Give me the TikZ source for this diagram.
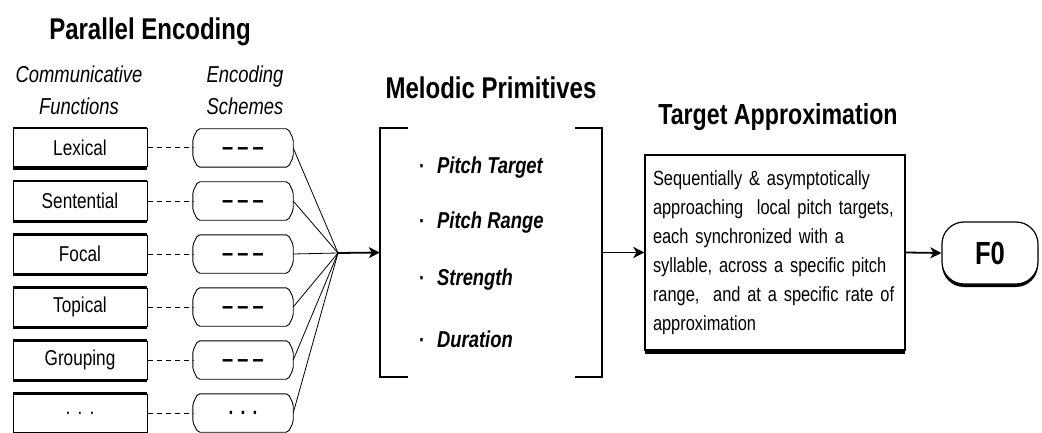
\documentclass[tikz,border=0pt]{standalone}
\usepackage{fontspec}
\setmainfont{Liberation Sans}[FakeStretch=0.8]
\usetikzlibrary{arrows.meta,shadows}
\begin{document}
\begin{tikzpicture}[x=1pt,y=-1pt,
  title/.style={anchor=base, inner sep=0pt, font=\fontsize{30}{34}\selectfont\bfseries},
  subtitle/.style={anchor=base, inner sep=0pt, align=center, font=\fontsize{23}{32}\selectfont\itshape},
  fbox/.style={draw, line width=1pt, fill=white, minimum width=134pt, minimum height=38pt, inner sep=0pt,
    font=\fontsize{21.5}{24}\selectfont,
    general shadow={fill=black, shadow yshift=1.8pt},
    general shadow={fill=black, shadow yshift=-3pt}},
  sbox/.style={minimum width=100pt, minimum height=38pt, inner sep=0pt},
  sline/.style={line width=0.9pt, rounded corners=2pt},
  stxt/.style={inner sep=0pt, font=\fontsize{25}{28}\selectfont\bfseries},
  dashconn/.style={line width=1pt, dash pattern=on 5pt off 4pt},
  fan/.style={line width=0.8pt},
  arr/.style={line width=1.8pt, -{Stealth[length=11pt, width=11pt, inset=3pt]}},
  brk/.style={line width=1.8pt},
  prim/.style={anchor=base west, inner sep=0pt, font=\fontsize{23}{26}\selectfont\bfseries\itshape},
  bul/.style={anchor=base, inner sep=0pt, font=\fontsize{22}{26}\selectfont\bfseries},
  tabox/.style={draw, line width=1.2pt, fill=white, minimum width=260pt, minimum height=195pt,
    inner sep=8pt, text width=244pt, align=left, font=\fontsize{20.5}{29}\selectfont,
    general shadow={fill=black, shadow yshift=1pt},
    general shadow={fill=black, shadow yshift=-4pt}},
  fzero/.style={draw, line width=1.2pt, fill=white, rounded corners=22pt, minimum width=96pt, minimum height=62pt,
    inner sep=0pt, font=\fontsize{32}{34}\selectfont\bfseries,
    general shadow={fill=black, shadow yshift=-3pt}}
]
\useasboundingbox (0,0) rectangle (1042,433);

% titles
\node[title] (tpe) at (150,40) {Parallel Encoding};
\node[title] (tmp) at (491,99) {Melodic Primitives};
\node[title, font=\fontsize{29}{34}\selectfont\bfseries] (tta) at (778,125) {Target Approximation};
\node[subtitle] (scf) at (79,115) {Communicative\\Functions};
\node[subtitle] (ses) at (245,115) {Encoding\\Schemes};

% function boxes and schemes
\foreach \i/\t/\y in {1/Lexical/148, 2/Sentential/201, 3/Focal/254, 4/Topical/307, 5/Grouping/360, 6/{.\,\,.\,\,.}/413}{
  \node[fbox] (f\i) at (80,\y) {\t};
}
\foreach \i/\y in {1/148, 2/201, 3/254, 4/307, 5/360, 6/413}{
  \node[sbox] (s\i) at (243,\y) {};
  \draw[sline] ([xshift=5pt]s\i.north west) -- ([xshift=-5pt]s\i.north east)
    -- ([yshift=-10pt]s\i.north east) -- ([yshift=10pt]s\i.south east)
    -- ([xshift=-5pt]s\i.south east) -- ([xshift=5pt]s\i.south west)
    -- ([yshift=10pt]s\i.south west) -- ([yshift=-10pt]s\i.north west) -- cycle;
}
\foreach \i in {1,...,5}{
  \node[stxt, yshift=-3.5pt] (d\i) at (s\i.center) {–\,–\,–};
}
\node[stxt, font=\fontsize{21.5}{24}\selectfont\bfseries] (d6) at (s6.center) {.\,\,.\,\,.};
\foreach \i in {1,...,6}{
  \draw[dashconn] (f\i.east) -- (s\i.west);
}

% fan-in
\coordinate (c) at (338,253);
\foreach \i in {1,...,6}{
  \draw[fan] (s\i.east) -- (c);
}

% melodic primitives bracket
\node[minimum width=222pt, minimum height=249pt, inner sep=0pt] (mp) at (491,252.5) {};
\draw[brk] ([xshift=28pt]mp.north west) -- (mp.north west) -- (mp.south west) -- ([xshift=28pt]mp.south west);
\draw[brk] ([xshift=-27pt]mp.north east) -- (mp.north east) -- (mp.south east) -- ([xshift=-27pt]mp.south east);
\draw[arr] (c) -- (mp.west);

\node[bul] (b1) at (422,174) {·};
\node[bul] (b2) at (422,229) {·};
\node[bul] (b3) at (422,285) {·};
\node[bul] (b4) at (422,347) {·};
\node[prim] (p1) at (437,174) {Pitch Target};
\node[prim] (p2) at (437,229) {Pitch Range};
\node[prim] (p3) at (437,285) {Strength};
\node[prim] (p4) at (437,347) {Duration};

% target approximation
\node[tabox] (ta) at (775,252.5) {Sequentially \& asymptotically\\approaching\ \ local pitch targets,\\each synchronized with a\\syllable, across a specific pitch\\range,\ \ and at a specific rate of\\approximation};
\draw[arr] (mp.east) -- (ta.west);

% F0
\node[fzero] (f0) at (990,253) {F0};
\draw[arr] (ta.east) -- (f0.west);
\end{tikzpicture}
\end{document}
